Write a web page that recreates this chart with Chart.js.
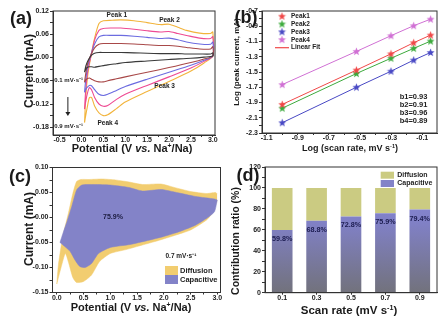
<!DOCTYPE html>
<html>
<head>
<meta charset="utf-8">
<script src="https://cdn.jsdelivr.net/npm/chart.js@4.4.0/dist/chart.umd.min.js"></script>
<style>
body{margin:0;background:#fff;width:447px;height:323px;overflow:hidden;position:relative;
  font-family:"Liberation Sans",Arial,sans-serif;font-weight:bold;color:#1a1a1a}
.box{position:absolute}
.t{position:absolute;white-space:nowrap;transform:translate(-50%,-50%);line-height:1}
.ty{position:absolute;white-space:nowrap;transform:translate(-50%,-50%) rotate(-90deg);line-height:1}
sup{font-size:62%;vertical-align:0;position:relative;top:-0.5em}
</style>
</head>
<body>
<div class="box" style="left:0;top:0;width:224px;height:160px"><canvas id="ca"></canvas></div>
<div class="box" style="left:224px;top:0;width:223px;height:160px"><canvas id="cb"></canvas></div>
<div class="box" style="left:0;top:160px;width:224px;height:163px"><canvas id="cc"></canvas></div>
<div class="box" style="left:224px;top:160px;width:223px;height:163px"><canvas id="cd"></canvas></div>

<div class="t" style="left:21px;top:18px;font-size:18px">(a)</div>
<div class="t" style="left:246px;top:17px;font-size:18px">(b)</div>
<div class="t" style="left:20px;top:176px;font-size:18px">(c)</div>
<div class="t" style="left:248px;top:175px;font-size:18px">(d)</div>

<div class="ty" style="left:29px;top:71px;font-size:12px">Current (mA)</div>
<div class="t" style="left:132px;top:147.5px;font-size:11px">Potential (V <i>vs.</i> Na<sup>+</sup>/Na)</div>
<div class="ty" style="left:237px;top:62px;font-size:8px">Log (peak current, mA)</div>
<div class="t" style="left:350px;top:148px;font-size:9px">Log (scan rate, mV s<sup>-1</sup>)</div>
<div class="ty" style="left:28.5px;top:229px;font-size:12px">Current (mA)</div>
<div class="t" style="left:131px;top:306.5px;font-size:11px">Potential (V <i>vs.</i> Na<sup>+</sup>/Na)</div>
<div class="ty" style="left:235px;top:241px;font-size:10.5px">Contribution ratio (%)</div>
<div class="t" style="left:349px;top:310.5px;font-size:11.5px">Scan rate (mV s<sup>-1</sup>)</div>

<script>
'use strict';
// ---- (a) CV loops, potential grid for anodic (up) and cathodic (down) sweeps
let upV = [0.07, 0.1, 0.15, 0.22, 0.3, 0.4, 0.5, 0.7, 0.9, 1.2, 1.5, 1.8, 2.0, 2.2, 2.4, 2.7, 2.95, 3.0];
let downV = [3.0, 2.8, 2.5, 2.0, 1.5, 1.0, 0.8, 0.6, 0.5, 0.4, 0.3, 0.23, 0.18, 0.13, 0.1, 0.07];
let rateNames = ['0.1', '0.3', '0.5', '0.7', '0.9'];
let up01 = [-0.038, -0.022, -0.008, 0.005, 0.011, 0.013, 0.013, 0.013, 0.013, 0.012, 0.011, 0.01, 0.01, 0.01, 0.009, 0.009, 0.009, 0.012];
let down01 = [0.004, 0.001, -0.002, -0.005, -0.009, -0.013, -0.016, -0.019, -0.021, -0.023, -0.025, -0.024, -0.024, -0.026, -0.03, -0.038];
let up03 = [-0.064, -0.04, -0.012, 0.008, 0.025, 0.034, 0.036, 0.036, 0.036, 0.035, 0.033, 0.031, 0.031, 0.029, 0.026, 0.022, 0.022, 0.028];
let down03 = [0.004, -0.004, -0.013, -0.026, -0.038, -0.05, -0.055, -0.06, -0.063, -0.063, -0.06, -0.056, -0.053, -0.055, -0.058, -0.064];
let up05 = [-0.09, -0.055, -0.02, 0.008, 0.035, 0.053, 0.057, 0.057, 0.057, 0.055, 0.052, 0.049, 0.05, 0.046, 0.04, 0.035, 0.034, 0.04];
let down05 = [0.004, -0.007, -0.02, -0.038, -0.056, -0.075, -0.085, -0.095, -0.098, -0.095, -0.083, -0.073, -0.072, -0.077, -0.082, -0.09];
let up07 = [-0.133, -0.08, -0.03, 0.005, 0.045, 0.07, 0.075, 0.076, 0.076, 0.073, 0.069, 0.066, 0.067, 0.062, 0.057, 0.05, 0.049, 0.054];
let down07 = [0.004, -0.01, -0.027, -0.05, -0.072, -0.095, -0.108, -0.124, -0.126, -0.12, -0.103, -0.083, -0.078, -0.095, -0.112, -0.133];
let up09 = [-0.168, -0.1, -0.04, 0.005, 0.05, 0.088, 0.095, 0.096, 0.097, 0.095, 0.09, 0.085, 0.086, 0.078, 0.07, 0.063, 0.062, 0.066];
let down09 = [0.004, -0.014, -0.035, -0.062, -0.088, -0.115, -0.132, -0.148, -0.15, -0.143, -0.125, -0.103, -0.104, -0.13, -0.148, -0.168];
let cvColors = ['#3a3a3a', '#a84848', '#6c6ce0', '#ee4a92', '#f2b43c'];
let aXMajor = [-0.5, 0, 0.5, 1.0, 1.5, 2.0, 2.5, 3.0];
let aXMinor = [-0.25, 0.25, 0.75, 1.25, 1.75, 2.25, 2.75];
let aYMajor = [0.12, 0.06, 0, -0.06, -0.12, -0.18];
let aYMinor = [0.09, 0.03, -0.03, -0.09, -0.15];

// ---- (b) log peak current vs log scan rate
let logRate = [-1, -0.523, -0.301, -0.155, -0.046];
let peak1 = [-1.925, -1.475, -1.262, -1.116, -1.016];
let peak2 = [-1.975, -1.52, -1.32, -1.19, -1.095];
let peak3 = [-2.165, -1.70, -1.49, -1.344, -1.244];
let peak4 = [-1.665, -1.23, -1.024, -0.893, -0.807];
let peakNames = ['Peak1', 'Peak2', 'Peak3', 'Peak4'];
let peakColors = ['#f04848', '#3caa3c', '#4848c4', '#d070d4'];
let bText = ['b1=0.93', 'b2=0.91', 'b3=0.96', 'b4=0.89'];
let bXMajor = [-1.1, -0.9, -0.7, -0.5, -0.3, -0.1];
let bXMinor = [-1.0, -0.8, -0.6, -0.4, -0.2];
let bYMajor = [-0.7, -0.9, -1.1, -1.3, -1.5, -1.7, -1.9, -2.1, -2.3];
let bYMinor = [-0.8, -1.0, -1.2, -1.4, -1.6, -1.8, -2.0, -2.2];

// ---- (c) total (diffusion) and capacitive regions at 0.7 mV/s
let totUpV = [0.0, 0.03, 0.09, 0.15, 0.22, 0.3, 0.37, 0.45, 0.6, 0.85, 1.1, 1.35, 1.6, 1.95, 2.2, 2.5, 2.8, 2.97, 3.0];
let totUpI = [-0.133, -0.095, -0.052, -0.021, 0.01, 0.048, 0.072, 0.076, 0.076, 0.077, 0.075, 0.071, 0.066, 0.067, 0.06, 0.052, 0.048, 0.05, 0.047];
let totDownV = [0.0, 0.08, 0.16, 0.22, 0.3, 0.37, 0.5, 0.65, 0.8, 1.0, 1.3, 1.6, 1.9, 2.2, 2.5, 2.8, 2.9, 3.0];
let totDownI = [-0.133, -0.1, -0.072, -0.09, -0.12, -0.13, -0.128, -0.115, -0.088, -0.072, -0.064, -0.055, -0.046, -0.036, -0.025, -0.005, 0.008, 0.035];
let capUpV = [0.06, 0.12, 0.2, 0.28, 0.37, 0.47, 0.7, 1.0, 1.35, 1.6, 1.95, 2.2, 2.6, 2.95, 3.0];
let capUpI = [-0.05, -0.03, -0.005, 0.022, 0.055, 0.065, 0.066, 0.065, 0.06, 0.053, 0.056, 0.051, 0.042, 0.037, 0.035];
let capDownV = [0.06, 0.15, 0.25, 0.34, 0.43, 0.53, 0.65, 0.78, 1.0, 1.37, 1.7, 2.0, 2.3, 2.6, 2.85, 2.95, 3.0];
let capDownI = [-0.05, -0.058, -0.068, -0.085, -0.098, -0.1, -0.092, -0.072, -0.06, -0.054, -0.046, -0.038, -0.028, -0.015, 0.002, 0.012, 0.035];
let cXMajor = [0, 0.5, 1.0, 1.5, 2.0, 2.5, 3.0];
let cXMinor = [0.25, 0.75, 1.25, 1.75, 2.25, 2.75];
let cYMajor = [0.10, 0.05, 0, -0.05, -0.10, -0.15];
let cYMinor = [0.075, 0.025, -0.025, -0.075, -0.125];

// ---- (d) contribution ratio
let scanRates = ['0.1', '0.3', '0.5', '0.7', '0.9'];
let capacitive = [59.8, 68.8, 72.8, 75.9, 79.4];
let diffusion = [40.2, 31.2, 27.2, 24.1, 20.6];
let dYMajor = [0, 20, 40, 60, 80, 100, 120];
let dYMinor = [10, 30, 50, 70, 90, 110];

const FONT = "'Liberation Sans', Arial, sans-serif";
let gold = '#f2cd70';
let purple = '#8383c8';
let khaki = '#cbcb82';

function pts(xs, ys) {
  return xs.map((v, i) => ({x: v, y: ys[i]}));
}

function mkAxis(pos, min, max, majors, minors, digits, size) {
  let vals = majors.concat(minors);
  return {
    type: 'linear', position: pos, min: min, max: max,
    border: {color: '#333', width: 1},
    grid: {drawOnChartArea: false, tickLength: pos === 'left' ? 3 : 2, color: '#333'},
    ticks: {
      autoSkip: false, maxRotation: 0, padding: pos === 'left' ? 1 : -1, color: '#222',
      font: {family: FONT, size: 7, weight: 'bold'},
      callback: v => majors.some(m => Math.abs(m - v) < 1e-9) ? v.toFixed(digits) : ''
    },
    afterBuildTicks: s => { s.ticks = vals.map(v => ({value: v})); },
    afterFit: s => {
      if (pos === 'left') s.width = size; else s.height = size;
      s.paddingLeft = 0; s.paddingRight = 0; s.paddingTop = 0; s.paddingBottom = 0;
    }
  };
}

// box around the plot area
Chart.register({
  id: 'frame',
  afterDatasetsDraw(chart) {
    let a = chart.chartArea, c = chart.ctx;
    c.save();
    c.strokeStyle = '#333';
    c.lineWidth = 1;
    c.strokeRect(a.left, a.top, a.right - a.left, a.bottom - a.top);
    c.restore();
  }
});

// text notes placed in data coordinates
Chart.register({
  id: 'notes',
  afterDatasetsDraw(chart, args, opts) {
    let items = opts.items || [];
    let c = chart.ctx;
    c.save();
    items.forEach(it => {
      let x = chart.scales.x.getPixelForValue(it.x);
      let y = chart.scales.y.getPixelForValue(it.y);
      c.font = 'bold ' + (it.size || 6.5) + 'px ' + FONT;
      c.fillStyle = it.color || '#222';
      c.textAlign = it.align || 'center';
      c.textBaseline = 'middle';
      c.fillText(it.t, x, y);
    });
    c.restore();
  }
});

Chart.defaults.font.family = FONT;
Chart.defaults.animation = false;
Chart.defaults.events = [];
Chart.defaults.maintainAspectRatio = false;
Chart.defaults.plugins.legend.display = false;
Chart.defaults.plugins.tooltip.enabled = false;

// ================= (a)
let cvUp = [up01, up03, up05, up07, up09];
let cvDown = [down01, down03, down05, down07, down09];
let cvSets = rateNames.map((r, i) => ({
  label: r + ' mV/s',
  data: pts(upV, cvUp[i]).concat(pts(downV, cvDown[i])),
  showLine: true, borderColor: cvColors[i], borderWidth: 1.1,
  pointRadius: 0, fill: false, tension: 0.25
}));

new Chart(document.getElementById('ca'), {
  type: 'scatter',
  data: {datasets: cvSets},
  options: {
    layout: {padding: {left: 0, top: 11, right: 9, bottom: 13}},
    scales: {
      x: mkAxis('bottom', -0.65, 3.05, aXMajor, aXMinor, 1, 12),
      y: mkAxis('left', -0.2, 0.12, aYMajor, aYMinor, 2, 53)
    },
    plugins: {
      notes: {items: [
        {t: 'Peak 1', x: 0.81, y: 0.11},
        {t: 'Peak 2', x: 2.01, y: 0.095},
        {t: 'Peak 3', x: 1.9, y: -0.075},
        {t: 'Peak 4', x: 0.6, y: -0.17},
        {t: '0.1 mV\u00b7s\u207b\u00b9', x: -0.62, y: -0.058, align: 'left', size: 6},
        {t: '0.9 mV\u00b7s\u207b\u00b9', x: -0.62, y: -0.177, align: 'left', size: 6}
      ]}
    }
  },
  plugins: [{
    id: 'arrow',
    afterDatasetsDraw(chart) {
      let c = chart.ctx, sx = chart.scales.x, sy = chart.scales.y;
      let x = sx.getPixelForValue(-0.31);
      let y0 = sy.getPixelForValue(-0.102), y1 = sy.getPixelForValue(-0.151);
      c.save();
      c.strokeStyle = '#222'; c.fillStyle = '#222'; c.lineWidth = 1;
      c.beginPath(); c.moveTo(x, y0); c.lineTo(x, y1 - 3); c.stroke();
      c.beginPath(); c.moveTo(x - 2.5, y1 - 4); c.lineTo(x + 2.5, y1 - 4); c.lineTo(x, y1); c.closePath(); c.fill();
      c.restore();
    }
  }]
});

// ================= (b)
function starImg(color) {
  let cv = document.createElement('canvas');
  cv.width = 9; cv.height = 9;
  let g = cv.getContext('2d');
  g.fillStyle = color;
  g.beginPath();
  for (let i = 0; i < 10; i++) {
    let r = i % 2 ? 1.8 : 4.2;
    let a = -Math.PI / 2 + i * Math.PI / 5;
    g.lineTo(4.5 + r * Math.cos(a), 4.8 + r * Math.sin(a));
  }
  g.closePath();
  g.fill();
  return cv;
}
let stars = peakColors.map(starImg);
let peakVals = [peak1, peak2, peak3, peak4];
let peakSets = peakNames.map((n, i) => ({
  label: n,
  data: pts(logRate, peakVals[i]),
  showLine: true, borderColor: peakColors[i], borderWidth: 1,
  pointStyle: stars[i], pointRadius: 4
}));

new Chart(document.getElementById('cb'), {
  type: 'scatter',
  data: {datasets: peakSets},
  options: {
    layout: {padding: {left: 0, top: 11, right: 10, bottom: 15}},
    scales: {
      x: mkAxis('bottom', -1.13, -0.005, bXMajor, bXMinor, 1, 12),
      y: mkAxis('left', -2.3, -0.7, bYMajor, bYMinor, 1, 38)
    },
    plugins: {
      notes: {items: bText.map((t, i) => ({t: t, x: -0.245, y: -1.832 - i * 0.105, align: 'left', size: 7.5}))}
    }
  },
  plugins: [{
    id: 'starLegend',
    afterDatasetsDraw(chart) {
      let c = chart.ctx, a = chart.chartArea;
      c.save();
      c.font = 'bold 6.5px ' + FONT;
      c.textBaseline = 'middle';
      c.fillStyle = '#222';
      chart.data.datasets.forEach((ds, i) => {
        let y = a.top + 5.5 + i * 7.8;
        c.drawImage(ds.pointStyle, a.left + 20 - 4.5, y - 4.8);
        c.fillText(ds.label, a.left + 29, y);
      });
      let y = a.top + 5.5 + 4 * 7.8;
      c.strokeStyle = peakColors[0];
      c.lineWidth = 1.2;
      c.beginPath(); c.moveTo(a.left + 13, y); c.lineTo(a.left + 27, y); c.stroke();
      c.fillText('Linear Fit', a.left + 29, y);
      c.restore();
    }
  }]
});

// ================= (c)
new Chart(document.getElementById('cc'), {
  type: 'scatter',
  data: {datasets: [
    {label: 'Capacitive', data: pts(capUpV, capUpI), showLine: true, pointRadius: 0,
      borderColor: purple, borderWidth: 0.5, backgroundColor: purple, fill: '+1', tension: 0.2},
    {label: 'cap-low', data: pts(capDownV, capDownI), showLine: true, pointRadius: 0,
      borderColor: purple, borderWidth: 0.5, fill: false, tension: 0.2},
    {label: 'Diffusion', data: pts(totUpV, totUpI), showLine: true, pointRadius: 0,
      borderColor: gold, borderWidth: 0.5, backgroundColor: gold, fill: '+1', tension: 0.2},
    {label: 'tot-low', data: pts(totDownV, totDownI), showLine: true, pointRadius: 0,
      borderColor: gold, borderWidth: 0.5, fill: false, tension: 0.2}
  ]},
  options: {
    layout: {padding: {left: 0, top: 7.5, right: 3.5, bottom: 18.5}},
    scales: {
      x: mkAxis('bottom', -0.08, 3.06, cXMajor, cXMinor, 1, 12),
      y: mkAxis('left', -0.15, 0.10, cYMajor, cYMinor, 2, 52.5)
    },
    plugins: {
      notes: {items: [
        {t: '75.9%', x: 1.05, y: 0.0015, size: 7, color: '#1c1c40'},
        {t: '0.7 mV\u00b7s\u207b\u00b9', x: 2.32, y: -0.078, size: 6.5}
      ]}
    }
  },
  plugins: [{
    id: 'boxLegendC',
    afterDatasetsDraw(chart) {
      let c = chart.ctx, a = chart.chartArea;
      c.save();
      c.font = 'bold 7.5px ' + FONT;
      c.textBaseline = 'middle';
      [[gold, 'Diffusion'], [purple, 'Capacitive']].forEach((it, i) => {
        let y = a.bottom - 26.5 + i * 9;
        c.fillStyle = it[0];
        c.fillRect(a.left + 112.5, y, 13, 9);
        c.fillStyle = '#222';
        c.fillText(it[1], a.left + 127.5, y + 4.5);
      });
      c.restore();
    }
  }]
});

// ================= (d)
function capGradient(ctx) {
  let chart = ctx.chart, a = chart.chartArea;
  if (!a) return purple;
  let y100 = chart.scales.y.getPixelForValue(100);
  let g = chart.ctx.createLinearGradient(0, y100, 0, a.bottom);
  g.addColorStop(0, '#8686d8');
  g.addColorStop(0.35, '#8080c4');
  g.addColorStop(1, '#72727c');
  return g;
}

let dY = mkAxis('left', 0, 120, dYMajor, dYMinor, 0, 41);
dY.stacked = true;

new Chart(document.getElementById('cd'), {
  type: 'bar',
  data: {
    labels: scanRates,
    datasets: [
      {label: 'Capacitive', data: capacitive, backgroundColor: capGradient,
        barPercentage: 0.6, categoryPercentage: 1},
      {label: 'Diffusion', data: diffusion, backgroundColor: khaki,
        barPercentage: 0.6, categoryPercentage: 1}
    ]
  },
  options: {
    layout: {padding: {left: 0, top: 7, right: 10, bottom: 18.3}},
    scales: {
      x: {
        type: 'category', stacked: true, offset: true,
        border: {color: '#333', width: 1},
        grid: {drawOnChartArea: false, offset: false, tickLength: 2, color: '#333'},
        ticks: {padding: -1, color: '#222', maxRotation: 0, font: {family: FONT, size: 7, weight: 'bold'}},
        afterFit: s => { s.height = 12; s.paddingLeft = 0; s.paddingRight = 0; }
      },
      y: dY
    }
  },
  plugins: [{
    id: 'barText',
    afterDatasetsDraw(chart) {
      let c = chart.ctx, a = chart.chartArea;
      let meta = chart.getDatasetMeta(0);
      c.save();
      c.font = 'bold 7.2px ' + FONT;
      c.textAlign = 'center';
      c.textBaseline = 'middle';
      c.fillStyle = '#1c1c50';
      meta.data.forEach((bar, i) => {
        c.fillText(capacitive[i].toFixed(1) + '%', bar.x, bar.y + 9);
      });
      c.textAlign = 'left';
      c.font = 'bold 7px ' + FONT;
      [[khaki, 'Diffusion'], [purple, 'Capacitive']].forEach((it, i) => {
        let y = a.top + 4.7 + i * 8.3;
        c.fillStyle = it[0];
        c.fillRect(a.right - 56.3, y, 13.3, 7);
        c.fillStyle = '#222';
        c.fillText(it[1], a.right - 39.7, y + 3.5);
      });
      c.restore();
    }
  }]
});
</script>
</body>
</html>
